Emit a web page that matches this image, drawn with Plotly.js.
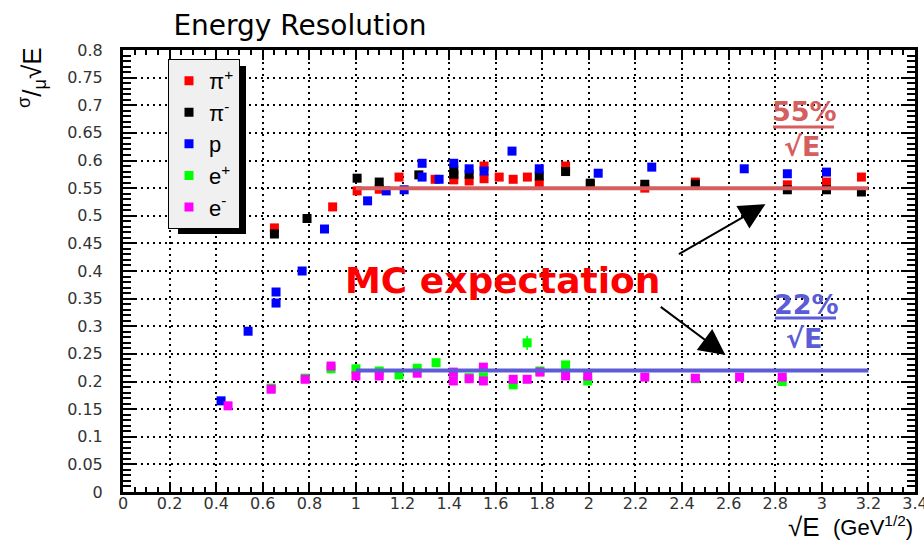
<!DOCTYPE html>
<html>
<head>
<meta charset="utf-8">
<script src="https://cdn.plot.ly/plotly-3.0.1.min.js"></script>
<style>html,body{margin:0;padding:0;background:#fff;}#chart{width:924px;height:541px;}</style>
</head>
<body>
<div id="chart"></div>
<script>
// ---- data ----
const piPlusX = [0.65, 0.90, 1.005, 1.10, 1.185, 1.34, 1.42, 1.42, 1.486, 1.55, 1.55, 1.615, 1.675, 1.736, 1.787, 1.90, 2.006, 2.24, 2.457, 2.852, 3.02, 3.17];
const piPlusY = [0.478, 0.516, 0.545, 0.548, 0.570, 0.566, 0.573, 0.565, 0.563, 0.590, 0.567, 0.570, 0.566, 0.570, 0.559, 0.590, 0.556, 0.550, 0.561, 0.556, 0.561, 0.570];

const piMinusX = [0.65, 0.79, 1.005, 1.10, 1.27, 1.42, 1.42, 1.486, 1.787, 1.90, 2.006, 2.24, 2.457, 2.852, 3.02, 3.17];
const piMinusY = [0.467, 0.495, 0.568, 0.561, 0.574, 0.583, 0.575, 0.575, 0.572, 0.580, 0.559, 0.557, 0.557, 0.547, 0.547, 0.543];

const protonX = [0.421, 0.537, 0.657, 0.657, 0.769, 0.865, 1.05, 1.13, 1.207, 1.284, 1.284, 1.357, 1.42, 1.486, 1.55, 1.67, 1.787, 2.04, 2.27, 2.667, 2.852, 3.02];
const protonY = [0.165, 0.291, 0.362, 0.342, 0.400, 0.476, 0.527, 0.545, 0.547, 0.595, 0.570, 0.566, 0.595, 0.585, 0.581, 0.617, 0.585, 0.577, 0.588, 0.585, 0.576, 0.579];

const ePlusX = [0.636, 0.782, 0.893, 1.0, 1.1, 1.185, 1.263, 1.344, 1.418, 1.486, 1.547, 1.675, 1.735, 1.79, 1.90, 1.995, 2.457, 2.83];
const ePlusY = [0.188, 0.206, 0.223, 0.223, 0.219, 0.212, 0.224, 0.234, 0.214, 0.207, 0.208, 0.194, 0.270, 0.219, 0.230, 0.201, 0.205, 0.200];
const ePlusErr = [0.004, 0.004, 0.004, 0.004, 0.004, 0.004, 0.004, 0.004, 0.004, 0.004, 0.004, 0.004, 0.013, 0.004, 0.006, 0.004, 0.004, 0.004];

const eMinusX = [0.451, 0.636, 0.782, 0.893, 1.0, 1.1, 1.263, 1.418, 1.418, 1.486, 1.547, 1.547, 1.675, 1.735, 1.79, 1.90, 1.995, 2.24, 2.457, 2.647, 2.83];
const eMinusY = [0.156, 0.186, 0.204, 0.228, 0.210, 0.210, 0.215, 0.217, 0.201, 0.205, 0.226, 0.201, 0.204, 0.204, 0.217, 0.210, 0.210, 0.208, 0.206, 0.208, 0.208];

const fitX = [1.0, 3.2];
const hadronFitY = [0.55, 0.55];
const emFitY = [0.22, 0.22];

const seriesNames = ['π<sup>+</sup>', 'π<sup>-</sup>', 'p', 'e<sup>+</sup>', 'e<sup>-</sup>'];
const seriesColors = ['#ff0000', '#000000', '#0000ff', '#00ff00', '#ff00ff'];

// ---- traces ----
function pts(x, y, i, errArr) {
  return {
    type: 'scatter', mode: 'markers', x: x, y: y, name: seriesNames[i],
    marker: {symbol: 'square', size: 9, color: seriesColors[i], line: {width: 0}},
    error_y: errArr ? {type: 'data', array: errArr, visible: true, color: seriesColors[i], thickness: 1.5, width: 0}
                    : {type: 'constant', value: 0.004, color: seriesColors[i], thickness: 1.5, width: 0},
    error_x: {type: 'constant', value: 0.012, color: seriesColors[i], thickness: 1.5, width: 0},
    cliponaxis: false
  };
}
const traces = [
  pts(piPlusX, piPlusY, 0),
  pts(piMinusX, piMinusY, 1),
  pts(protonX, protonY, 2),
  pts(ePlusX, ePlusY, 3, ePlusErr),
  pts(eMinusX, eMinusY, 4),
  {type: 'scatter', mode: 'lines', x: fitX, y: hadronFitY, showlegend: false, hoverinfo: 'skip',
   line: {color: '#d55e5e', width: 4}},
  {type: 'scatter', mode: 'lines', x: fitX, y: emFitY, showlegend: false, hoverinfo: 'skip',
   line: {color: '#5c5cd6', width: 4}}
];

const tickFont = {family: 'DejaVu Sans', size: 16, color: '#333'};

const layout = {
  width: 924, height: 541,
  margin: {l: 123, r: 9, t: 50, b: 49},
  paper_bgcolor: '#ffffff', plot_bgcolor: '#ffffff',
  showlegend: true,
  title: {text: 'Energy Resolution', font: {family: 'DejaVu Sans', size: 28, color: '#000'},
          x: (300 - 123) / 792, xanchor: 'center', xref: 'paper', y: 0.953, yanchor: 'middle'},
  xaxis: {
    range: [0, 3.40001], dtick: 0.2, tick0: 0, ticks: 'inside', ticklen: 10, tickwidth: 2, tickcolor: '#000',
    showline: true, linecolor: '#000', linewidth: 3, mirror: 'allticks',
    showgrid: true, gridcolor: '#000', gridwidth: 2, griddash: '2px,4px',
    zeroline: false, tickfont: tickFont, ticklabelstandoff: -5, ticklabeloverflow: 'allow',
    minor: {dtick: 0.05, ticks: 'inside', ticklen: 5, tickcolor: '#000', tickwidth: 2, showgrid: false}
  },
  yaxis: {
    range: [0, 0.80001], dtick: 0.05, tick0: 0, ticks: 'inside', ticklen: 14, tickwidth: 2, tickcolor: '#000',
    showline: true, linecolor: '#000', linewidth: 3, mirror: 'allticks',
    showgrid: true, gridcolor: '#000', gridwidth: 2, griddash: '2px,4px',
    zeroline: false, tickfont: tickFont, ticklabelstandoff: 14, ticklabeloverflow: 'allow',
    minor: {dtick: 0.01, ticks: 'inside', ticklen: 8, tickcolor: '#000', tickwidth: 2, showgrid: false}
  },
  legend: {
    x: 0.0568, y: 0.98, xanchor: 'left', yanchor: 'top',
    bgcolor: '#f0f0f0', bordercolor: '#000', borderwidth: 1,
    font: {family: 'Liberation Sans', size: 22, color: '#000'},
    itemwidth: 30, tracegroupgap: 0
  },
  shapes: [
    // legend drop shadow
    {type: 'rect', xref: 'paper', yref: 'paper', x0: (178 - 123) / 792, x1: (246 - 123) / 792,
     y0: (492 - 234) / 442, y1: (492 - 66) / 442,
     fillcolor: '#000', line: {width: 0}, layer: 'above'},
    // fraction bars of the labels
    {type: 'line', xref: 'paper', yref: 'paper', x0: (773 - 123) / 792, x1: (834 - 123) / 792,
     y0: (492 - 127) / 442, y1: (492 - 127) / 442, line: {color: '#d55e5e', width: 3}},
    {type: 'line', xref: 'paper', yref: 'paper', x0: (775 - 123) / 792, x1: (836 - 123) / 792,
     y0: (492 - 318) / 442, y1: (492 - 318) / 442, line: {color: '#5c5cd6', width: 3}}
  ],
  annotations: [
    {xref: 'paper', yref: 'paper', x: (343 - 123) / 792, y: (492 - 280) / 442, xanchor: 'left', yanchor: 'middle',
     text: '<b>MC expectation</b>', showarrow: false, font: {family: 'DejaVu Sans', size: 36, color: '#ff0000'}},
    {xref: 'x', yref: 'y', axref: 'x', ayref: 'y', x: 2.758, y: 0.521, ax: 2.38, ay: 0.429, text: '',
     showarrow: true, arrowhead: 2, arrowsize: 2.6, arrowwidth: 2, arrowcolor: '#000'},
    {xref: 'x', yref: 'y', axref: 'x', ayref: 'y', x: 2.586, y: 0.248, ax: 2.302, ay: 0.337, text: '',
     showarrow: true, arrowhead: 2, arrowsize: 2.6, arrowwidth: 2, arrowcolor: '#000'},
    {xref: 'paper', yref: 'paper', x: (804 - 123) / 792, y: (492 - 112) / 442, xanchor: 'center', yanchor: 'middle',
     text: '<b>55%</b>', showarrow: false, font: {family: 'DejaVu Sans', size: 27, color: '#d55e5e'}},
    {xref: 'paper', yref: 'paper', x: (802 - 123) / 792, y: (492 - 146) / 442, xanchor: 'center', yanchor: 'middle',
     text: '<b>√E</b>', showarrow: false, font: {family: 'DejaVu Sans', size: 27, color: '#d55e5e'}},
    {xref: 'paper', yref: 'paper', x: (806 - 123) / 792, y: (492 - 304) / 442, xanchor: 'center', yanchor: 'middle',
     text: '<b>22%</b>', showarrow: false, font: {family: 'DejaVu Sans', size: 27, color: '#5c5cd6'}},
    {xref: 'paper', yref: 'paper', x: (804 - 123) / 792, y: (492 - 338) / 442, xanchor: 'center', yanchor: 'middle',
     text: '<b>√E</b>', showarrow: false, font: {family: 'DejaVu Sans', size: 27, color: '#5c5cd6'}},
    // x-axis title
    {xref: 'paper', yref: 'paper', x: (822 - 123) / 792, y: (492 - 527) / 442, xanchor: 'right', yanchor: 'middle',
     text: '√E', showarrow: false, font: {family: 'Liberation Sans', size: 26, color: '#000'}},
    {xref: 'paper', yref: 'paper', x: (831 - 123) / 792, y: (492 - 526) / 442, xanchor: 'left', yanchor: 'middle',
     text: '(GeV<sup>1/2</sup>)', showarrow: false, font: {family: 'Liberation Sans', size: 22, color: '#000'}},
    // y-axis title
    {xref: 'paper', yref: 'paper', x: (32 - 123) / 792, y: (492 - 78) / 442, xanchor: 'center', yanchor: 'middle',
     textangle: -90, text: '<sup>σ</sup>/<sub>μ</sub>√E', showarrow: false,
     font: {family: 'Liberation Sans', size: 26, color: '#000'}}
  ]
};

Plotly.newPlot('chart', traces, layout, {displayModeBar: false, staticPlot: true});
</script>
</body>
</html>
